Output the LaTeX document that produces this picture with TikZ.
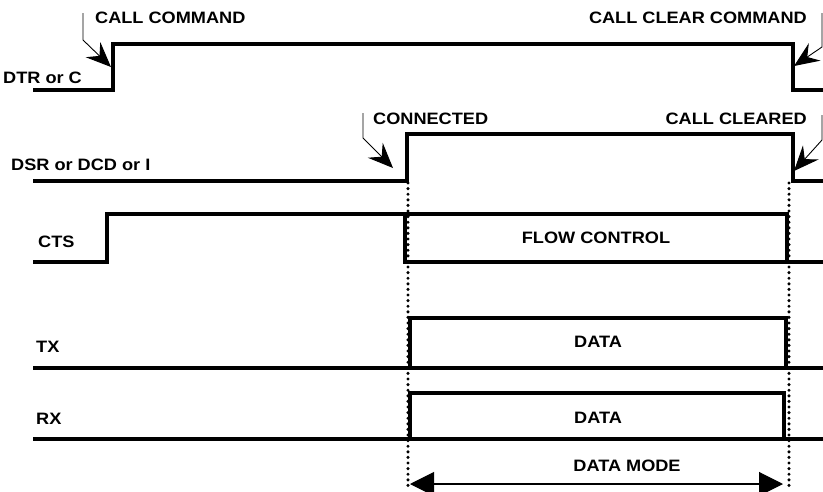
\documentclass[tikz,border=0pt]{standalone}
\usepackage{fontspec}
\setmainfont{Liberation Sans}
\usetikzlibrary{arrows.meta}
\newcommand{\sig}[1]{\scalebox{1.1}[1]{\bfseries #1}}
\tikzset{
  wave/.style={line width=3.2pt, line join=miter, line cap=rect},
  guidedot/.style={fill=black},
  callout/.style={line width=0.9pt, -{Stealth[length=25pt,width=21pt,inset=9pt]}},
  span/.style={line width=1.1pt, {Triangle[length=24pt,width=24pt]}-{Triangle[length=24pt,width=24pt]}},
  lbl/.style={inner sep=0pt, font=\fontsize{16.5}{16.5}\selectfont}
}
\begin{document}
\begin{tikzpicture}[x=1pt,y=-1pt]
\useasboundingbox (0,0) rectangle (823,491);

% signal coordinates
\coordinate (dtrA) at (35,90);   \coordinate (dtrB) at (113,90);
\coordinate (dtrC) at (113,44);  \coordinate (dtrD) at (793,44);
\coordinate (dtrE) at (793,90);  \coordinate (dtrF) at (823,90);

\coordinate (dsrA) at (35,181);  \coordinate (dsrB) at (407,181);
\coordinate (dsrC) at (407,134); \coordinate (dsrD) at (793,134);
\coordinate (dsrE) at (793,181); \coordinate (dsrF) at (823,181);

\coordinate (ctsA) at (35,262);  \coordinate (ctsB) at (107,262);
\coordinate (ctsC) at (107,214); \coordinate (ctsD) at (787,214);
\coordinate (ctsE) at (787,262); \coordinate (ctsF) at (823,262);
\coordinate (ctsG) at (405,214); \coordinate (ctsH) at (405,262);

\coordinate (txA) at (35,368);   \coordinate (txF) at (823,368);
\coordinate (txB) at (410,368);  \coordinate (txC) at (410,318);
\coordinate (txD) at (786,318);  \coordinate (txE) at (786,368);

\coordinate (rxA) at (35,439);   \coordinate (rxF) at (823,439);
\coordinate (rxB) at (410,439);  \coordinate (rxC) at (410,393);
\coordinate (rxD) at (784,393);  \coordinate (rxE) at (784,439);

% waveforms
\draw[wave] (dtrA) -- (dtrB) -- (dtrC) -- (dtrD) -- (dtrE) -- (dtrF);
\draw[wave] (dsrA) -- (dsrB) -- (dsrC) -- (dsrD) -- (dsrE) -- (dsrF);
\draw[wave] (ctsA) -- (ctsB) -- (ctsC) -- (ctsD) -- (ctsE);
\draw[wave] (ctsG) -- (ctsH) -- (ctsF);
\draw[wave] (txA) -- (txF);
\draw[wave] (txB) -- (txC) -- (txD) -- (txE);
\draw[wave] (rxA) -- (rxF);
\draw[wave] (rxB) -- (rxC) -- (rxD) -- (rxE);

% data-mode guides: dotted verticals at the start and end of data mode
\foreach \yy in {183,188.6,...,488} {
  \fill[guidedot] (408,\yy) circle (1.7pt);
  \fill[guidedot] (789,\yy) circle (1.7pt);
}

% signal names
\node[lbl, anchor=base west] (ndtr) at (3,83) {\sig{DTR or C}};
\node[lbl, anchor=base west] (ndsr) at (11,170) {\sig{DSR or DCD or I}};
\node[lbl, anchor=base west] (ncts) at (38,247) {\sig{CTS}};
\node[lbl, anchor=base west] (ntx) at (36,352) {\sig{TX}};
\node[lbl, anchor=base west] (nrx) at (36,424) {\sig{RX}};

% event labels
\node[lbl, anchor=base west] (ecall) at (95,23) {\sig{CALL COMMAND}};
\node[lbl, anchor=base east] (eclr) at (807,23) {\sig{CALL CLEAR COMMAND}};
\node[lbl, anchor=base west] (econ) at (373,124) {\sig{CONNECTED}};
\node[lbl, anchor=base east] (ecld) at (807,124) {\sig{CALL CLEARED}};

% box labels
\node[lbl] (fc) at (596,238) {\sig{FLOW CONTROL}};
\node[lbl] (dtx) at (598,342) {\sig{DATA}};
\node[lbl] (drx) at (598,418) {\sig{DATA}};
\node[lbl] (dm) at (627,466) {\sig{DATA MODE}};

% callout arrows
\coordinate (c1a) at (83,13);  \coordinate (c1b) at (83,40);  \coordinate (c1t) at (111,67);
\coordinate (c2a) at (822,13); \coordinate (c2b) at (822,47); \coordinate (c2t) at (794,66);
\coordinate (c3a) at (363,113);\coordinate (c3b) at (363,138);\coordinate (c3t) at (393,168);
\coordinate (c4a) at (822,115);\coordinate (c4b) at (822,140);\coordinate (c4t) at (794,171);
\draw[callout] (c1a) -- (c1b) -- (c1t);
\draw[callout] (c2a) -- (c2b) -- (c2t);
\draw[callout] (c3a) -- (c3b) -- (c3t);
\draw[callout] (c4a) -- (c4b) -- (c4t);

% data-mode span
\coordinate (sL) at (410,484); \coordinate (sR) at (783,484);
\draw[span] (sL) -- (sR);
\end{tikzpicture}
\end{document}
